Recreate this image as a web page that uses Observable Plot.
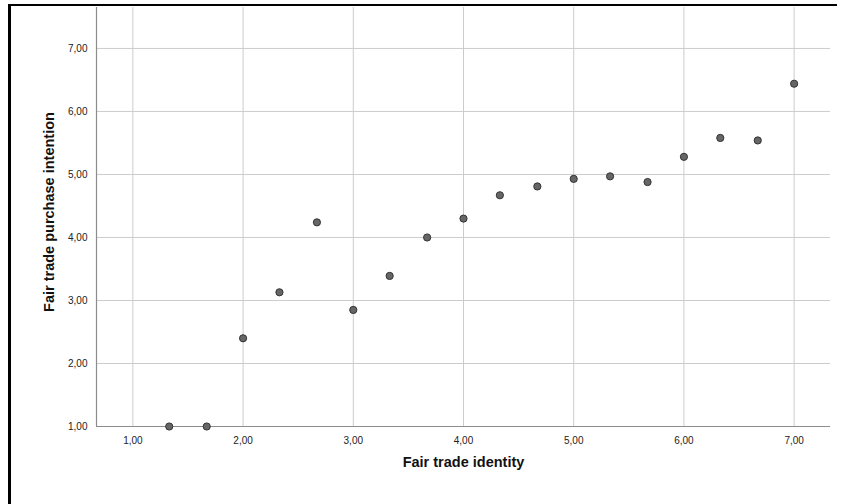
<!DOCTYPE html>
<html>
<head>
<meta charset="utf-8">
<script src="https://cdn.jsdelivr.net/npm/d3@7"></script>
<script src="https://cdn.jsdelivr.net/npm/@observablehq/plot@0.6"></script>
<style>
  html, body { margin: 0; padding: 0; background: #fff; }
  #wrap { position: relative; width: 845px; height: 504px; overflow: hidden; font-family: "Liberation Sans", Arial, sans-serif; }
  #border { position: absolute; left: 8px; top: 4px; width: 829px; height: 510px; border-top: 2px solid #000; border-left: 3px solid #000; box-sizing: border-box; pointer-events: none; }
</style>
</head>
<body>
<div id="wrap"><div id="border"></div></div>
<script>
const identity = [1.33, 1.67, 2.00, 2.33, 2.67, 3.00, 3.33, 3.67, 4.00, 4.33, 4.67, 5.00, 5.33, 5.67, 6.00, 6.33, 6.67, 7.00];
const intention = [1.00, 1.00, 2.40, 3.13, 4.24, 2.85, 3.39, 4.00, 4.30, 4.67, 4.81, 4.93, 4.97, 4.88, 5.28, 5.58, 5.54, 6.44];
const xTicks = [1, 2, 3, 4, 5, 6, 7];
const yTicks = [1, 2, 3, 4, 5, 6, 7];
const xDomain = [0.67, 7.33];
const yDomain = [1, 7.65];
const xTitle = "Fair trade identity";
const yTitle = "Fair trade purchase intention";

const data = identity.map((x, i) => ({x, y: intention[i]}));
const fmt = d => d.toFixed(2).replace(".", ",");

const chart = Plot.plot({
  width: 845,
  height: 504,
  marginLeft: 96,
  marginRight: 15,
  marginTop: 7,
  marginBottom: 78,
  style: {fontFamily: "'Liberation Sans', Arial, sans-serif", fontSize: "10px", color: "#222", background: "transparent"},
  x: {domain: xDomain},
  y: {domain: yDomain},
  marks: [
    Plot.gridX(xTicks, {stroke: "#cccccc", strokeOpacity: 1, strokeWidth: 1}),
    Plot.gridY(yTicks.filter(d => d > yDomain[0]), {stroke: "#cccccc", strokeOpacity: 1, strokeWidth: 1}),
    Plot.ruleX([xDomain[0]], {stroke: "#8c8c8c", strokeWidth: 1.2}),
    Plot.ruleY([yDomain[0]], {stroke: "#8c8c8c", strokeWidth: 1.2}),
    Plot.axisX(xTicks, {tickSize: 0, tickPadding: 10, tickFormat: fmt, label: null, fill: "#222"}),
    Plot.axisY(yTicks, {tickSize: 0, tickPadding: 9, tickFormat: fmt, label: null, fill: "#222"}),
    Plot.dot(data, {x: "x", y: "y", r: 3.6, fill: "#666666", stroke: "#333333", strokeWidth: 1}),
    Plot.text([xTitle], {frameAnchor: "bottom", textAnchor: "middle", dy: 40, text: d => d, fontSize: 14.5, fontWeight: "bold", fill: "#111"}),
    Plot.text([yTitle], {frameAnchor: "left", textAnchor: "middle", dx: -47, dy: -5, rotate: -90, text: d => d, fontSize: 14.5, fontWeight: "bold", fill: "#111"})
  ]
});
document.getElementById("wrap").insertBefore(chart, document.getElementById("border"));
</script>
</body>
</html>
